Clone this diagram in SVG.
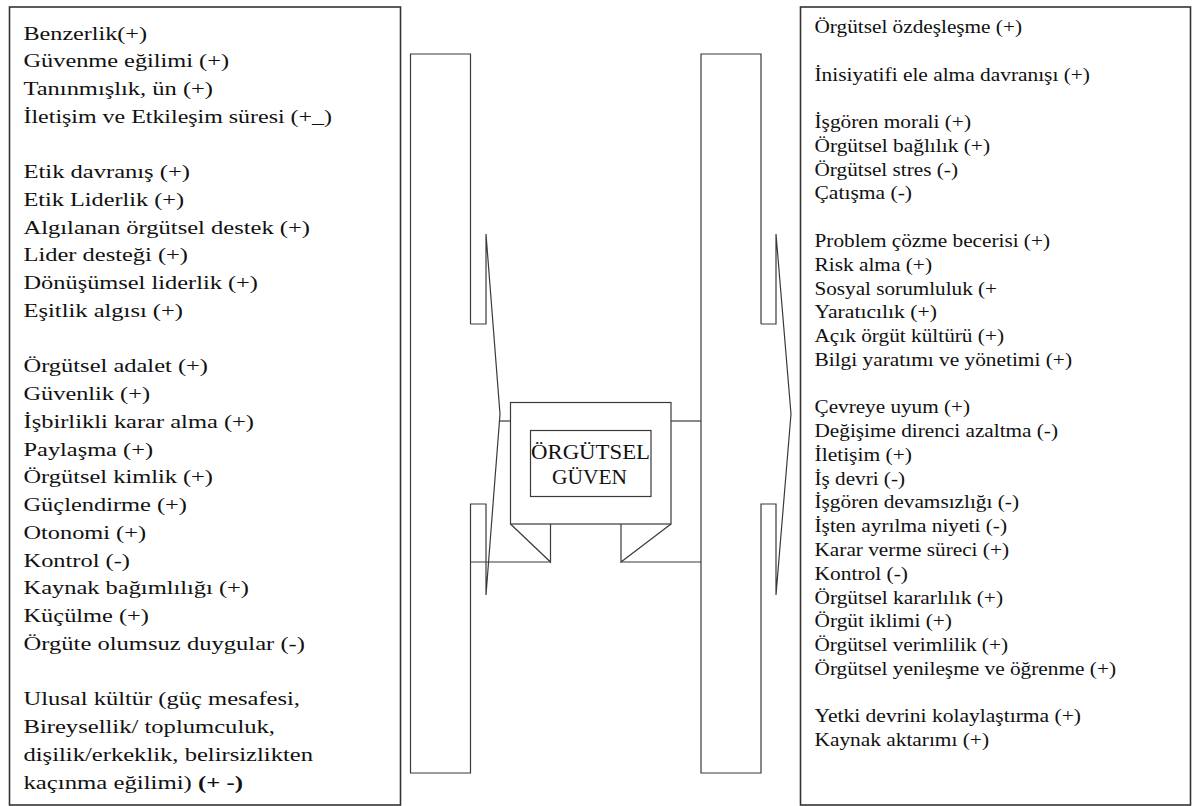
<svg xmlns="http://www.w3.org/2000/svg" width="1197" height="806" viewBox="0 0 1197 806">
<style>
.box{fill:none;stroke:#333;stroke-width:1.6}
.ln{fill:none;stroke:#3a3a3a;stroke-width:1.2;stroke-linejoin:miter}
.t{font-family:"Liberation Serif","Times New Roman",serif;font-size:18px;fill:#111}
.c{font-family:"Liberation Serif","Times New Roman",serif;font-size:20px;fill:#111;text-anchor:middle}
</style>
<rect width="1197" height="806" fill="#fff"/>

<g id="left-factors">
<rect class="box" x="9.5" y="7" width="391" height="798"/>
<g class="t" lengthAdjust="spacingAndGlyphs">
<text x="23.5" y="39.5" textLength="123.5" lengthAdjust="spacingAndGlyphs">Benzerlik(+)</text>
<text x="23.5" y="67.2" textLength="205.5" lengthAdjust="spacingAndGlyphs">Güvenme eğilimi (+)</text>
<text x="23.5" y="95" textLength="189.5" lengthAdjust="spacingAndGlyphs">Tanınmışlık, ün (+)</text>
<text x="23.5" y="122.7" textLength="308.5" lengthAdjust="spacingAndGlyphs">İletişim ve Etkileşim süresi (+_)</text>
<text x="23.5" y="178.2" textLength="166.5" lengthAdjust="spacingAndGlyphs">Etik davranış (+)</text>
<text x="23.5" y="205.9" textLength="160.5" lengthAdjust="spacingAndGlyphs">Etik Liderlik (+)</text>
<text x="23.5" y="233.7" textLength="286.5" lengthAdjust="spacingAndGlyphs">Algılanan örgütsel destek (+)</text>
<text x="23.5" y="261.4" textLength="164.5" lengthAdjust="spacingAndGlyphs">Lider desteği (+)</text>
<text x="23.5" y="289.2" textLength="234.5" lengthAdjust="spacingAndGlyphs">Dönüşümsel liderlik (+)</text>
<text x="23.5" y="316.9" textLength="159.5" lengthAdjust="spacingAndGlyphs">Eşitlik algısı (+)</text>
<text x="23.5" y="372.4" textLength="184.5" lengthAdjust="spacingAndGlyphs">Örgütsel adalet (+)</text>
<text x="23.5" y="400.1" textLength="126.5" lengthAdjust="spacingAndGlyphs">Güvenlik (+)</text>
<text x="23.5" y="427.9" textLength="230.5" lengthAdjust="spacingAndGlyphs">İşbirlikli karar alma (+)</text>
<text x="23.5" y="455.6" textLength="129.5" lengthAdjust="spacingAndGlyphs">Paylaşma (+)</text>
<text x="23.5" y="483.4" textLength="189.5" lengthAdjust="spacingAndGlyphs">Örgütsel kimlik (+)</text>
<text x="23.5" y="511.1" textLength="163.5" lengthAdjust="spacingAndGlyphs">Güçlendirme (+)</text>
<text x="23.5" y="538.8" textLength="122.5" lengthAdjust="spacingAndGlyphs">Otonomi (+)</text>
<text x="23.5" y="566.6" textLength="106.5" lengthAdjust="spacingAndGlyphs">Kontrol (-)</text>
<text x="23.5" y="594.3" textLength="225.5" lengthAdjust="spacingAndGlyphs">Kaynak bağımlılığı (+)</text>
<text x="23.5" y="622" textLength="125.5" lengthAdjust="spacingAndGlyphs">Küçülme (+)</text>
<text x="23.5" y="649.8" textLength="281.5" lengthAdjust="spacingAndGlyphs">Örgüte olumsuz duygular (-)</text>
<text x="23.5" y="705.3" textLength="276.5" lengthAdjust="spacingAndGlyphs">Ulusal kültür (güç mesafesi,</text>
<text x="23.5" y="733" textLength="251.5" lengthAdjust="spacingAndGlyphs">Bireysellik/ toplumculuk,</text>
<text x="23.5" y="760.7" textLength="289.5" lengthAdjust="spacingAndGlyphs">dişilik/erkeklik, belirsizlikten</text>
<text x="23.5" y="788.5" textLength="219.5" lengthAdjust="spacingAndGlyphs">kaçınma eğilimi) <tspan font-weight="bold">(+ -)</tspan></text>
</g>
</g>

<g id="right-outcomes">
<rect class="box" x="800.5" y="7" width="390" height="798"/>
<g class="t">
<text x="814.5" y="33" textLength="207.5" lengthAdjust="spacingAndGlyphs">Örgütsel özdeşleşme (+)</text>
<text x="814.5" y="80.5" textLength="275.5" lengthAdjust="spacingAndGlyphs">İnisiyatifi ele alma davranışı (+)</text>
<text x="814.5" y="128.1" textLength="156.5" lengthAdjust="spacingAndGlyphs">İşgören morali (+)</text>
<text x="814.5" y="151.9" textLength="175.5" lengthAdjust="spacingAndGlyphs">Örgütsel bağlılık (+)</text>
<text x="814.5" y="175.6" textLength="143.5" lengthAdjust="spacingAndGlyphs">Örgütsel stres (-)</text>
<text x="814.5" y="199.4" textLength="97.5" lengthAdjust="spacingAndGlyphs">Çatışma (-)</text>
<text x="814.5" y="246.9" textLength="235.5" lengthAdjust="spacingAndGlyphs">Problem çözme becerisi (+)</text>
<text x="814.5" y="270.7" textLength="117.5" lengthAdjust="spacingAndGlyphs">Risk alma (+)</text>
<text x="814.5" y="294.5" textLength="182.5" lengthAdjust="spacingAndGlyphs">Sosyal sorumluluk (+</text>
<text x="814.5" y="318.2" textLength="122.5" lengthAdjust="spacingAndGlyphs">Yaratıcılık (+)</text>
<text x="814.5" y="342" textLength="189.5" lengthAdjust="spacingAndGlyphs">Açık örgüt kültürü (+)</text>
<text x="814.5" y="365.8" textLength="257.5" lengthAdjust="spacingAndGlyphs">Bilgi yaratımı ve yönetimi (+)</text>
<text x="814.5" y="413.3" textLength="155.5" lengthAdjust="spacingAndGlyphs">Çevreye uyum (+)</text>
<text x="814.5" y="437.1" textLength="243.5" lengthAdjust="spacingAndGlyphs">Değişime direnci azaltma (-)</text>
<text x="814.5" y="460.9" textLength="97.5" lengthAdjust="spacingAndGlyphs">İletişim (+)</text>
<text x="814.5" y="484.6" textLength="90.5" lengthAdjust="spacingAndGlyphs">İş devri (-)</text>
<text x="814.5" y="508.4" textLength="204.5" lengthAdjust="spacingAndGlyphs">İşgören devamsızlığı (-)</text>
<text x="814.5" y="532.2" textLength="192.5" lengthAdjust="spacingAndGlyphs">İşten ayrılma niyeti (-)</text>
<text x="814.5" y="555.9" textLength="194.5" lengthAdjust="spacingAndGlyphs">Karar verme süreci (+)</text>
<text x="814.5" y="579.7" textLength="93.5" lengthAdjust="spacingAndGlyphs">Kontrol (-)</text>
<text x="814.5" y="603.5" textLength="188.5" lengthAdjust="spacingAndGlyphs">Örgütsel kararlılık (+)</text>
<text x="814.5" y="627.3" textLength="137.5" lengthAdjust="spacingAndGlyphs">Örgüt iklimi (+)</text>
<text x="814.5" y="651" textLength="193.5" lengthAdjust="spacingAndGlyphs">Örgütsel verimlilik (+)</text>
<text x="814.5" y="674.8" textLength="301.5" lengthAdjust="spacingAndGlyphs">Örgütsel yenileşme ve öğrenme (+)</text>
<text x="814.5" y="722.3" textLength="266.5" lengthAdjust="spacingAndGlyphs">Yetki devrini kolaylaştırma (+)</text>
<text x="814.5" y="746.1" textLength="174.5" lengthAdjust="spacingAndGlyphs">Kaynak aktarımı (+)</text>
</g>
</g>

<g id="center-node">
<rect class="ln" x="510.5" y="402.5" width="160.5" height="121.5"/>
<rect class="ln" x="530.5" y="430.5" width="120.5" height="66"/>
<text class="c" x="590.5" y="459" textLength="119" lengthAdjust="spacingAndGlyphs">ÖRGÜTSEL</text>
<text class="c" x="589.5" y="484" textLength="75" lengthAdjust="spacingAndGlyphs">GÜVEN</text>
<path class="ln" d="M510.5,524 L550.5,562 L550.5,524"/>
<path class="ln" d="M671,524 L621,562 L621,524"/>
</g>

<g id="connectors">
<path class="ln" d="M470.5,324 L470.5,54 L410.5,54 L410.5,773 L470.5,773 L470.5,504 L486,504 L486,595 L500,414 L486,234 L486,324 L470.5,324"/>
<path class="ln" d="M500,421 L510.5,421"/>
<path class="ln" d="M470.5,562 L550.5,562"/>
<path class="ln" d="M761,324 L761,54 L701,54 L701,773 L761,773 L761,504 L776,504 L776,595 L791,414 L776,234 L776,324 L761,324"/>
<path class="ln" d="M671,421 L701,421"/>
<path class="ln" d="M621,562 L701,562"/>
</g>
</svg>
